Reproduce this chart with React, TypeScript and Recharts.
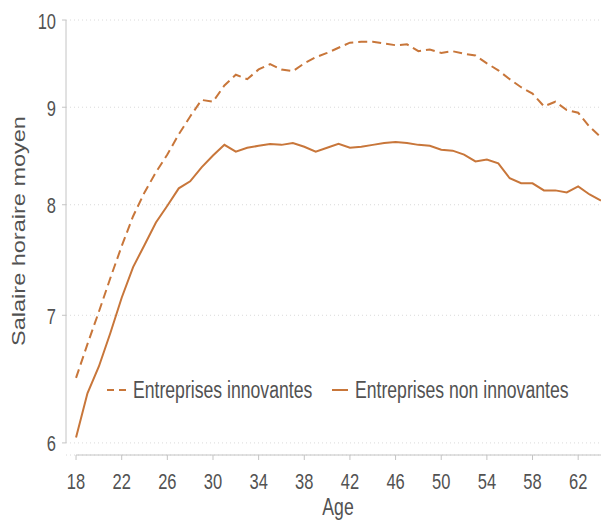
import React from 'react';
import { LineChart, Line, XAxis, YAxis, CartesianGrid, ReferenceLine, Legend } from 'recharts';

// page has an 8px body margin by default; the chart fills the window
document.body.style.margin = '0';

const ages = [
  18, 19, 20, 21, 22, 23, 24, 25, 26, 27, 28, 29, 30, 31, 32, 33, 34, 35, 36, 37, 38, 39, 40,
  41, 42, 43, 44, 45, 46, 47, 48, 49, 50, 51, 52, 53, 54, 55, 56, 57, 58, 59, 60, 61, 62, 63, 64,
];

const innovantes = [
  6.49, 6.76, 7.03, 7.32, 7.61, 7.89, 8.12, 8.32, 8.5, 8.71, 8.9, 9.08, 9.06, 9.24, 9.36, 9.31,
  9.42, 9.48, 9.42, 9.4, 9.49, 9.56, 9.61, 9.67, 9.73, 9.74, 9.74, 9.72, 9.7, 9.71, 9.63, 9.65,
  9.61, 9.63, 9.6, 9.58, 9.49, 9.41, 9.31, 9.22, 9.15, 9.01, 9.06, 8.97, 8.94, 8.79, 8.68,
];

const nonInnovantes = [
  6.04, 6.37, 6.58, 6.85, 7.15, 7.42, 7.62, 7.83, 7.99, 8.16, 8.23, 8.37, 8.49, 8.6, 8.53, 8.57,
  8.59, 8.61, 8.6, 8.62, 8.58, 8.53, 8.57, 8.61, 8.57, 8.58, 8.6, 8.62, 8.63, 8.62, 8.6, 8.59,
  8.55, 8.54, 8.5, 8.43, 8.45, 8.41, 8.26, 8.21, 8.21, 8.14, 8.14, 8.12, 8.18, 8.1, 8.04,
];

const xTicks = [18, 22, 26, 30, 34, 38, 42, 46, 50, 54, 58, 62];
const yTicks = [6, 7, 8, 9, 10];

const data = ages.map((age, i) => ({ age, innov: innovantes[i], nonInnov: nonInnovantes[i] }));

const LINE = '#c8763a';
const AXIS = '#c4c4c4';
const TEXT = '#525252';
const FONT = '"Liberation Sans", Arial, sans-serif';
const SQUEEZE = 0.75; // the reference text is horizontally condensed

const XTick = ({ x, y, payload }: any) => (
  <text
    transform={`translate(${x},${y + 29}) scale(${SQUEEZE},1)`}
    textAnchor="middle"
    fill={TEXT}
    fontSize={22}
    fontFamily={FONT}
  >
    {payload.value}
  </text>
);

const YTick = ({ x, y, payload }: any) => (
  <text
    transform={`translate(${x - 6},${y + 8.5}) scale(${SQUEEZE},1)`}
    textAnchor="end"
    fill={TEXT}
    fontSize={22}
    fontFamily={FONT}
  >
    {payload.value}
  </text>
);

// swatch start/end and text start, relative to the legend box
const legendSlots = [
  { x1: 7, x2: 27, tx: 33 },
  { x1: 232, x2: 248, tx: 255 },
];

const renderLegend = (props: any) => (
  <svg width={500} height={40}>
    {(props.payload || []).map((item: any, i: number) => {
      const slot = legendSlots[i];
      return (
        <g key={item.value}>
          <line
            x1={slot.x1}
            x2={slot.x2}
            y1={18}
            y2={18}
            stroke={item.color}
            strokeWidth={2}
            strokeDasharray={i === 0 ? '7 5' : undefined}
          />
          <text
            transform={`translate(${slot.tx},26) scale(${SQUEEZE},1)`}
            fill={TEXT}
            fontSize={23.5}
            fontFamily={FONT}
          >
            {item.value}
          </text>
        </g>
      );
    })}
  </svg>
);

export default function App() {
  return (
    <LineChart width={607} height={521} data={data} margin={{ top: 20, right: 6, bottom: 0, left: 0 }}>
      <CartesianGrid vertical={false} stroke="#dadada" strokeDasharray="1 3" />
      <XAxis
        dataKey="age"
        type="number"
        domain={[17.12, 64]}
        ticks={xTicks}
        interval={0}
        allowDataOverflow
        axisLine={false}
        tickLine={{ stroke: AXIS }}
        tickSize={5}
        tickMargin={0}
        height={66}
        tick={<XTick />}
        label={{
          value: 'Age',
          content: () => (
            <text
              transform={`translate(338,515) scale(${SQUEEZE},1)`}
              textAnchor="middle"
              fill={TEXT}
              fontSize={23.5}
              fontFamily={FONT}
            >
              Age
            </text>
          ),
        }}
      />
      <YAxis
        type="number"
        scale="log"
        domain={[5.913, 10]}
        ticks={yTicks}
        interval={0}
        allowDataOverflow
        axisLine={false}
        tickLine={{ stroke: AXIS }}
        tickSize={4}
        tickMargin={0}
        width={66}
        tick={<YTick />}
        label={{
          value: 'Salaire horaire moyen',
          content: () => (
            <text
              transform={`translate(25,231) scale(${SQUEEZE},1) rotate(-90)`}
              textAnchor="middle"
              fill={TEXT}
              fontSize={23.5}
              fontFamily={FONT}
            >
              Salaire horaire moyen
            </text>
          ),
        }}
      />
      <ReferenceLine
        segment={[{ x: 17.12, y: 6 }, { x: 17.12, y: 10 }]}
        stroke={AXIS}
        ifOverflow="visible"
      />
      <ReferenceLine
        segment={[{ x: 18, y: 5.913 }, { x: 64, y: 5.913 }]}
        stroke={AXIS}
        ifOverflow="visible"
      />
      <Legend
        layout="horizontal"
        verticalAlign="middle"
        align="center"
        content={renderLegend}
        wrapperStyle={{ left: 100, top: 372, width: 500, height: 40 }}
      />
      <Line
        type="linear"
        dataKey="innov"
        name="Entreprises innovantes"
        stroke={LINE}
        strokeWidth={2}
        strokeDasharray="9 5"
        dot={false}
        isAnimationActive={false}
      />
      <Line
        type="linear"
        dataKey="nonInnov"
        name="Entreprises non innovantes"
        stroke={LINE}
        strokeWidth={2}
        dot={false}
        isAnimationActive={false}
      />
    </LineChart>
  );
}
